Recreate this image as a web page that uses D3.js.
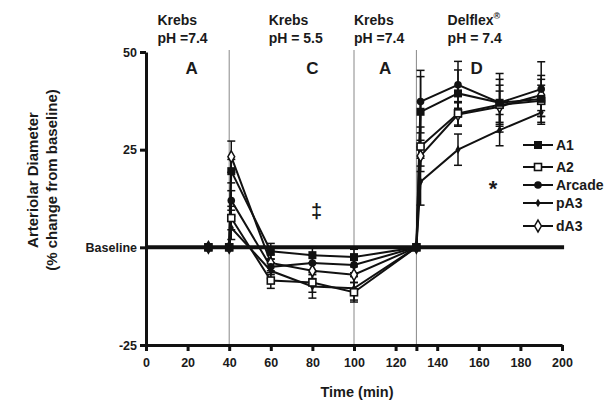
<!DOCTYPE html>
<html><head><meta charset="utf-8">
<script src="https://cdn.jsdelivr.net/npm/d3@7"></script>
<style>body{margin:0;background:#fff}text{font-family:"Liberation Sans",Arial,sans-serif;font-weight:bold;fill:#1a1a1a}</style>
</head><body><svg id="c" width="616" height="403"></svg>
<script>
const times = [30, 40, 41, 60, 80, 100, 130, 132, 150, 170, 190];
const seriesNames = ["A1", "A2", "Arcade", "pA3", "dA3"];
const A1     = [0, 0, 19.5, -1, -2, -2.5, 0, 34.7, 39.4, 37, 38];
const A2     = [0, 0, 7.5, -8.5, -9, -11.5, 0, 25.8, 34.3, 36.5, 37.5];
const Arcade = [0, 0, 12, -5, -4, -4.5, 0, 37.3, 41.6, 37, 40.5];
const pA3    = [0, 0, 5, -6, -10, -10.5, 0, 16.8, 25, 30, 34.5];
const dA3    = [0, 0, 23.2, -4, -6, -7, 0, 23.4, 34, 36, 39];
const errA1     = [0, 0, 3, 2, 2, 2, 0, 9, 6, 6, 6];
const errA2     = [0, 0, 3, 2, 2.5, 2.5, 0, 5, 3, 5, 4];
const errArcade = [0, 0, 2.5, 2, 2, 2, 0, 8, 6, 7.5, 7];
const errpA3    = [0, 0, 3, 2, 3, 3, 0, 6, 4, 4, 3];
const errdA3    = [0, 0, 4, 2, 2, 2, 0, 4, 3, 4, 4];
const xTicks = [0, 20, 40, 60, 80, 100, 120, 130, 140, 160, 180, 200];
const xTickLabels = ["0","20","40","60","80","100","120","","140","160","180","200"];
const yTicks = [50, 25, 0, -25];
const yTickLabels = ["50", "25", "Baseline", "-25"];
const phaseLines = [40, 100, 130];
const phases = [
  {t: 5.5, l1: "Krebs", l2: "pH =7.4", letter: "A", lt: 22},
  {t: 59, l1: "Krebs", l2: "pH = 5.5", letter: "C", lt: 80},
  {t: 100, l1: "Krebs", l2: "pH =7.4", letter: "A", lt: 115},
  {t: 145, l1: "Delflex", l2: "pH = 7.4", letter: "D", lt: 159}
];

const vals = [A1, A2, Arcade, pA3, dA3];
const errs = [errA1, errA2, errArcade, errpA3, errdA3];

const svg = d3.select("#c");
const x = d3.scaleLinear().domain([0, 200]).range([146, 562]);
const y = d3.scaleLinear().domain([-25, 50]).range([345, 52]);

// phase lines
svg.selectAll(".pl").data(phaseLines).enter().append("line")
  .attr("x1", d => x(d)).attr("x2", d => x(d)).attr("y1", 50).attr("y2", y(-25))
  .attr("stroke", "#888").attr("stroke-width", 1);

// phase labels
phases.forEach(p => {
  const t1 = svg.append("text").attr("x", x(p.t)).attr("y", 25).attr("font-size", 14).text(p.l1);
  if (p.l1 === "Delflex") t1.append("tspan").attr("dy", -6).attr("font-size", 9).text("®");
  svg.append("text").attr("x", x(p.t)).attr("y", 43).attr("font-size", 14).text(p.l2);
  svg.append("text").attr("x", x(p.lt)).attr("y", 74).attr("font-size", 17).attr("text-anchor", "middle").text(p.letter);
});

// baseline
svg.append("line").attr("x1", x(0)).attr("x2", x(201)).attr("y1", y(0)).attr("y2", y(0))
  .attr("stroke", "#111").attr("stroke-width", 4);

// axes
const xAxis = d3.axisBottom(x).tickValues(xTicks).tickFormat((d, i) => xTickLabels[i]).tickSize(6).tickSizeOuter(0);
const gx = svg.append("g").attr("transform", `translate(0,${y(-25)})`).call(xAxis);
gx.select(".domain").attr("stroke", "#111").attr("stroke-width", 3);
gx.selectAll(".tick line").attr("stroke", "#111").attr("stroke-width", 3);
gx.selectAll(".tick text").attr("font-size", 12.5).attr("dy", "1em").style("font-family", "Liberation Sans").style("font-weight", "bold").attr("fill", "#1a1a1a");

const yAxis = d3.axisLeft(y).tickValues(yTicks).tickFormat((d, i) => yTickLabels[i]).tickSize(6).tickSizeOuter(0);
const gy = svg.append("g").attr("transform", `translate(${x(0)},0)`).call(yAxis);
gy.select(".domain").attr("stroke", "#111").attr("stroke-width", 3);
gy.selectAll(".tick line").attr("stroke", "#111").attr("stroke-width", 3);
gy.selectAll(".tick text").attr("font-size", 12.5).style("font-family", "Liberation Sans").style("font-weight", "bold").attr("fill", "#1a1a1a");

// axis titles
svg.append("text").attr("x", 357).attr("y", 397).attr("text-anchor", "middle").attr("font-size", 14.5).text("Time (min)");
svg.append("text").attr("transform", "translate(38,180) rotate(-90)").attr("text-anchor", "middle").attr("font-size", 15).text("Arteriolar Diameter");
svg.append("text").attr("transform", "translate(57,180) rotate(-90)").attr("text-anchor", "middle").attr("font-size", 15).text("(% change from baseline)");

// symbols
function marker(g, name, cx, cy) {
  if (name === "A1") g.append("rect").attr("x", cx-4).attr("y", cy-4).attr("width", 8).attr("height", 8).attr("fill", "#111");
  else if (name === "A2") g.append("rect").attr("x", cx-3.5).attr("y", cy-3.5).attr("width", 7).attr("height", 7).attr("fill", "#fff").attr("stroke", "#111").attr("stroke-width", 1.6);
  else if (name === "Arcade") g.append("circle").attr("cx", cx).attr("cy", cy).attr("r", 3.8).attr("fill", "#111");
  else if (name === "pA3") g.append("path").attr("d", d3.symbol(d3.symbolDiamond, 22)()).attr("transform", `translate(${cx},${cy})`).attr("fill", "#111");
  else g.append("path").attr("d", d3.symbol(d3.symbolDiamond, 40)()).attr("transform", `translate(${cx},${cy})`).attr("fill", "#fff").attr("stroke", "#111").attr("stroke-width", 1.5);
}

const line = d3.line().x(d => x(d[0])).y(d => y(d[1]));
const eg = svg.append("g");
const lg = svg.append("g");
const mg = svg.append("g");
seriesNames.forEach((name, si) => {
  const pts = times.map((t, i) => [t, vals[si][i], errs[si][i]]);
  lg.append("path").datum(pts).attr("d", line).attr("fill", "none").attr("stroke", "#111").attr("stroke-width", 2);
  pts.forEach(p => {
    if (p[2] > 0) {
      const cx = x(p[0]);
      eg.append("line").attr("x1", cx).attr("x2", cx).attr("y1", y(p[1]-p[2])).attr("y2", y(p[1]+p[2])).attr("stroke", "#111").attr("stroke-width", 1.5);
      [p[1]-p[2], p[1]+p[2]].forEach(v => eg.append("line").attr("x1", cx-4).attr("x2", cx+4).attr("y1", y(v)).attr("y2", y(v)).attr("stroke", "#111").attr("stroke-width", 1.5));
    }
  });
});
// markers drawn in reverse so A1 sits on top
seriesNames.slice().reverse().forEach(name => {
  const si = seriesNames.indexOf(name);
  times.forEach((t, i) => marker(mg, name, x(t), y(vals[si][i])));
});

// annotations
svg.append("text").attr("x", x(82)).attr("y", 218).attr("text-anchor", "middle").attr("font-size", 20).attr("font-weight", "normal").text("‡");
svg.append("text").attr("x", 493).attr("y", 196).attr("text-anchor", "middle").attr("font-size", 22).attr("font-weight", "normal").text("*");

// legend
const legY = [145, 167, 185, 203, 226];
seriesNames.forEach((name, i) => {
  const g = svg.append("g");
  g.append("line").attr("x1", 523).attr("x2", 553).attr("y1", legY[i]).attr("y2", legY[i]).attr("stroke", "#111").attr("stroke-width", 2);
  marker(g, name, 538, legY[i]);
  g.append("text").attr("x", 556).attr("y", legY[i] + 5).attr("font-size", 14).text(name);
});
</script></body></html>
